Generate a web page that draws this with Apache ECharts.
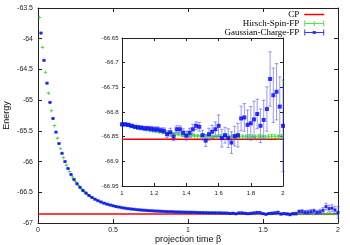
<!DOCTYPE html>
<html><head><meta charset="utf-8">
<script src="https://cdn.jsdelivr.net/npm/echarts@6/dist/echarts.min.js"></script>
<style>html,body{margin:0;padding:0;background:#fff}#c{width:350px;height:245px}</style>
</head><body><div id="c"></div>
<script>
// ---- data ----
const betaBlue = [0.02,0.04,0.06,0.08,0.10,0.12,0.14,0.16,0.18,0.20,0.22,0.24,0.26,0.28,0.30,0.32,0.34,0.36,0.38,0.40,0.42,0.44,0.46,0.48,0.50,0.52,0.54,0.56,0.58,0.60,0.62,0.64,0.66,0.68,0.70,0.72,0.74,0.76,0.78,0.80,0.82,0.84,0.86,0.88,0.90,0.92,0.94,0.96,0.98,1.00,
1.02,1.04,1.06,1.08,1.10,1.12,1.14,1.16,1.18,1.20,1.22,1.24,1.26,1.28,1.30,1.32,1.34,1.36,1.38,1.40,1.42,1.44,1.46,1.48,1.50,1.52,1.54,1.56,1.58,1.60,1.62,1.64,1.66,1.68,1.70,1.72,1.74,1.76,1.78,1.80,1.82,1.84,1.86,1.88,1.90,1.92,1.94,1.96,1.98,2.00];
const energyBlue = [-63.908,-64.352,-64.724,-65.037,-65.299,-65.521,-65.707,-65.866,-66.000,-66.113,-66.210,-66.291,-66.361,-66.419,-66.471,-66.514,-66.552,-66.585,-66.613,-66.637,-66.658,-66.677,-66.693,-66.707,-66.719,-66.732,-66.741,-66.751,-66.759,-66.766,-66.772,-66.777,-66.783,-66.787,-66.792,-66.795,-66.799,-66.801,-66.805,-66.807,-66.809,-66.812,-66.814,-66.816,-66.817,-66.820,-66.821,-66.822,-66.824,-66.825,
-66.825,-66.826,-66.828,-66.830,-66.831,-66.832,-66.833,-66.833,-66.834,-66.835,-66.835,-66.837,-66.838,-66.845,-66.841,-66.850,-66.835,-66.835,-66.842,-66.848,-66.842,-66.835,-66.828,-66.830,-66.847,-66.858,-66.845,-66.840,-66.835,-66.828,-66.853,-66.847,-66.853,-66.862,-66.849,-66.847,-66.813,-66.811,-66.826,-66.823,-66.815,-66.804,-66.828,-66.816,-66.794,-66.733,-66.766,-66.759,-66.789,-66.828];
const errBlue = [0.001,0.001,0.001,0.001,0.001,0.001,0.001,0.001,0.001,0.001,0.002,0.002,0.002,0.002,0.002,0.002,0.002,0.002,0.002,0.002,0.002,0.002,0.002,0.002,0.002,0.002,0.002,0.002,0.002,0.002,0.003,0.003,0.003,0.003,0.003,0.003,0.003,0.003,0.003,0.003,0.003,0.003,0.003,0.003,0.003,0.003,0.003,0.003,0.003,0.003,
0.003,0.003,0.003,0.003,0.004,0.004,0.004,0.004,0.005,0.005,0.005,0.005,0.006,0.007,0.008,0.008,0.007,0.007,0.008,0.009,0.009,0.010,0.008,0.009,0.010,0.012,0.012,0.013,0.015,0.022,0.018,0.016,0.019,0.022,0.020,0.024,0.025,0.028,0.030,0.034,0.037,0.030,0.034,0.040,0.045,0.055,0.055,0.057,0.060,0.093];
const betaGreen = [0.01,0.03,0.05,0.07,0.09,0.11,0.13,0.15,0.17,0.19,0.21,0.23,0.25,0.27,0.29,0.31,0.33,0.35,0.37,0.39,0.41,0.43,0.45,0.47,0.49,0.51,0.53,0.55,0.57,0.59,0.61,0.63,0.65,0.67,0.69,0.71,0.73,0.75,0.77,0.79,0.81,0.83,0.85,0.87,0.89,0.91,0.93,0.95,0.97,0.99,
1.01,1.03,1.05,1.07,1.09,1.11,1.13,1.15,1.17,1.19,1.21,1.23,1.25,1.27,1.29,1.31,1.33,1.35,1.37,1.39,1.41,1.43,1.45,1.47,1.49,1.51,1.53,1.55,1.57,1.59,1.61,1.63,1.65,1.67,1.69,1.71,1.73,1.75,1.77,1.79,1.81,1.83,1.85,1.87,1.89,1.91,1.93,1.95,1.97,1.99];
const energyGreen = [-63.656,-64.140,-64.546,-64.886,-65.173,-65.415,-65.619,-65.791,-65.936,-66.059,-66.163,-66.251,-66.327,-66.391,-66.446,-66.494,-66.534,-66.569,-66.600,-66.625,-66.648,-66.668,-66.685,-66.700,-66.713,-66.727,-66.738,-66.746,-66.754,-66.762,-66.769,-66.775,-66.780,-66.785,-66.789,-66.793,-66.797,-66.800,-66.803,-66.806,-66.808,-66.811,-66.813,-66.815,-66.817,-66.819,-66.820,-66.822,-66.823,-66.824,
-66.826,-66.827,-66.829,-66.830,-66.832,-66.833,-66.834,-66.836,-66.837,-66.838,-66.839,-66.840,-66.841,-66.842,-66.843,-66.844,-66.845,-66.845,-66.846,-66.847,-66.847,-66.848,-66.848,-66.848,-66.849,-66.848,-66.849,-66.849,-66.850,-66.849,-66.849,-66.850,-66.849,-66.850,-66.849,-66.850,-66.849,-66.850,-66.850,-66.849,-66.850,-66.850,-66.849,-66.850,-66.851,-66.850,-66.849,-66.850,-66.851,-66.850];
const errGreen = [0.001,0.001,0.001,0.001,0.001,0.001,0.001,0.001,0.001,0.001,0.001,0.001,0.001,0.001,0.001,0.001,0.001,0.001,0.001,0.001,0.001,0.001,0.001,0.001,0.001,0.001,0.001,0.001,0.001,0.001,0.001,0.001,0.001,0.001,0.001,0.001,0.001,0.001,0.001,0.001,0.001,0.001,0.001,0.001,0.001,0.001,0.001,0.001,0.001,0.001,
0.001,0.001,0.001,0.001,0.001,0.001,0.001,0.001,0.001,0.001,0.002,0.002,0.002,0.002,0.002,0.002,0.002,0.002,0.002,0.002,0.002,0.002,0.002,0.002,0.002,0.002,0.002,0.002,0.002,0.002,0.003,0.003,0.003,0.003,0.003,0.003,0.003,0.003,0.003,0.003,0.003,0.003,0.003,0.003,0.003,0.004,0.004,0.004,0.004,0.004];
const cpEnergy = -66.855;
const seriesNames = ['CP', 'Hirsch-Spin-FP', 'Gaussian-Charge-FP'];
const axisTitles = {x: 'projection time \u03b2', y: 'Energy'};
const mainRange = {xMin: 0, xMax: 2, xStep: 0.5, yMin: -67, yMax: -63.5, yStep: 0.5};
const insetRange = {xMin: 1, xMax: 2, xStep: 0.2, yMin: -66.95, yMax: -66.65, yStep: 0.05};

// ---- build ----
function triples(xs, ys, es, lo, hi) {
  const out = [];
  for (let i = 0; i < xs.length; i++) if (xs[i] >= lo - 1e-9 && xs[i] <= hi + 1e-9) out.push([xs[i], ys[i], es[i]]);
  return out;
}
const blueMain = triples(betaBlue, energyBlue, errBlue, 0, 2);
const greenMain = triples(betaGreen, energyGreen, errGreen, 0, 2);
const blueInset = triples(betaBlue, energyBlue, errBlue, 1, 2);
const greenInset = triples(betaGreen, energyGreen, errGreen, 1, 2);

const AX = '#222';
const fmt = v => String(+(+v).toFixed(3));
function xAx(grid, pos, r, labels, z, fs, margin, tick) {
  return {type: 'value', gridIndex: grid, position: pos, min: r.xMin, max: r.xMax, interval: r.xStep, z: z,
    axisLine: {show: true, onZero: false, lineStyle: {color: AX, width: 1}},
    axisTick: {show: true, inside: true, length: tick, lineStyle: {color: AX, width: 1}},
    splitLine: {show: false},
    axisLabel: {show: labels, formatter: fmt, color: '#222', fontSize: fs, fontFamily: 'Liberation Sans', margin: margin}};
}
function yAx(grid, pos, r, labels, z, fs, margin, tick) {
  return {type: 'value', gridIndex: grid, position: pos, min: r.yMin, max: r.yMax, interval: r.yStep, z: z,
    axisLine: {show: true, onZero: false, lineStyle: {color: AX, width: 1}},
    axisTick: {show: true, inside: true, length: tick, lineStyle: {color: AX, width: 1}},
    splitLine: {show: false},
    axisLabel: {show: labels, formatter: fmt, color: '#222', fontSize: fs, fontFamily: 'Liberation Sans', margin: margin}};
}
const xAxes = [xAx(0, 'bottom', mainRange, true, 1, 7, 3.5, 4), xAx(0, 'top', mainRange, false, 1, 7, 3, 4),
               xAx(1, 'bottom', insetRange, true, 6, 6, 4, 3), xAx(1, 'top', insetRange, false, 6, 6, 3, 3)];
const yAxes = [yAx(0, 'left', mainRange, true, 1, 7, 5, 4), yAx(0, 'right', mainRange, false, 1, 7, 3, 4),
               yAx(1, 'left', insetRange, true, 6, 6, 3.5, 3), yAx(1, 'right', insetRange, false, 6, 6, 3, 3)];
Object.assign(xAxes[0], {name: axisTitles.x, nameLocation: 'middle', nameGap: 12, nameMoveOverlap: false,
  nameTextStyle: {fontSize: 9, fontFamily: 'Liberation Sans', color: '#111'}});
Object.assign(yAxes[0], {name: axisTitles.y, nameLocation: 'middle', nameGap: 27, nameMoveOverlap: false,
  nameTextStyle: {fontSize: 9, fontFamily: 'Liberation Sans', color: '#111'}});

function errRender(cap, color) {
  return function (params, api) {
    const x = api.value(0), y = api.value(1), e = api.value(2);
    const t = api.coord([x, y + e]), b = api.coord([x, y - e]);
    const st = {stroke: color, lineWidth: 1};
    return {type: 'group', children: [
      {type: 'line', shape: {x1: t[0], y1: t[1], x2: b[0], y2: b[1]}, style: st},
      {type: 'line', shape: {x1: t[0] - cap, y1: t[1], x2: t[0] + cap, y2: t[1]}, style: st},
      {type: 'line', shape: {x1: b[0] - cap, y1: b[1], x2: b[0] + cap, y2: b[1]}, style: st}
    ]};
  };
}
const PLUS = 'path://M2,0h1v5h-1zM0,2h5v1h-5z';
const BLUE = '#0000ff', GREEN = '#22dd22', RED = '#ff0000';
const EB = 'rgba(70,70,255,0.55)', EG = 'rgba(30,200,30,0.5)';

const series = [
  {name: seriesNames[0], type: 'line', xAxisIndex: 0, yAxisIndex: 0, data: [[mainRange.xMin, cpEnergy], [mainRange.xMax, cpEnergy]],
   symbol: 'none', color: RED, lineStyle: {color: RED, width: 1.5}, z: 2, silent: true},
  {name: seriesNames[1], type: 'scatter', xAxisIndex: 0, yAxisIndex: 0, data: greenMain.map(d => [d[0], d[1]]),
   symbol: PLUS, symbolSize: 3.5, color: GREEN, itemStyle: {color: GREEN}, z: 3, silent: true},
  {name: seriesNames[2], type: 'scatter', xAxisIndex: 0, yAxisIndex: 0, data: blueMain.map(d => [d[0], d[1]]),
   symbol: 'rect', symbolSize: 3, color: BLUE, itemStyle: {color: BLUE}, z: 5, silent: true},
  {name: 'gErrMain', type: 'custom', xAxisIndex: 0, yAxisIndex: 0, data: greenMain, renderItem: errRender(1.2, EG), z: 3, silent: true},
  {name: 'bErrMain', type: 'custom', xAxisIndex: 0, yAxisIndex: 0, data: blueMain, renderItem: errRender(1.5, EB), z: 4, silent: true},
  // inset
  {name: 'cpInset', type: 'line', xAxisIndex: 2, yAxisIndex: 2, data: [[insetRange.xMin, cpEnergy], [insetRange.xMax, cpEnergy]],
   symbol: 'none', lineStyle: {color: RED, width: 1.5}, z: 7, silent: true},
  {name: 'gErrInset', type: 'custom', xAxisIndex: 2, yAxisIndex: 2, data: greenInset, renderItem: errRender(1.5, EG), z: 8, silent: true},
  {name: 'gInset', type: 'scatter', xAxisIndex: 2, yAxisIndex: 2, data: greenInset.map(d => [d[0], d[1]]),
   symbol: PLUS, symbolSize: 4.5, itemStyle: {color: GREEN}, z: 8, silent: true},
  {name: 'bErrInset', type: 'custom', xAxisIndex: 2, yAxisIndex: 2, data: blueInset, renderItem: errRender(1.7, EB), z: 9, silent: true},
  {name: 'bInset', type: 'scatter', xAxisIndex: 2, yAxisIndex: 2, data: blueInset.map(d => [d[0], d[1]]),
   symbol: 'rect', symbolSize: 4, itemStyle: {color: BLUE}, z: 10, silent: true}
];

const chart = echarts.init(document.getElementById('c'), null, {renderer: 'canvas'});
chart.setOption({
  animation: false,
  backgroundColor: '#fff',
  grid: [
    {left: 38, right: 12, top: 8, bottom: 22, containLabel: false, outerBoundsMode: 'none'},
    {left: 122, right: 67, top: 38, bottom: 59, containLabel: false, outerBoundsMode: 'none', show: true, backgroundColor: '#fff', borderWidth: 0, z: 5}
  ],
  xAxis: xAxes,
  yAxis: yAxes,
  legend: {
    orient: 'vertical', align: 'right', right: 20, top: 5, itemGap: 0, itemWidth: 20, itemHeight: 6,
    selectedMode: false, z: 20,
    textStyle: {fontFamily: 'Liberation Serif', fontSize: 9, color: '#000'},
    data: [
      {name: seriesNames[0], itemStyle: {opacity: 0}, lineStyle: {width: 1.5}},
      {name: seriesNames[1], icon: 'path://M0,0h1v6h-1zM19,0h1v6h-1zM0,2.5h20v1h-20zM9.5,0.5h1v5h-1z'},
      {name: seriesNames[2], icon: 'path://M0,0h1v6h-1zM19,0h1v6h-1zM0,2.5h20v1h-20zM8.5,1.5h3v3h-3z'}
    ]
  },
  series: series
});
</script></body></html>
